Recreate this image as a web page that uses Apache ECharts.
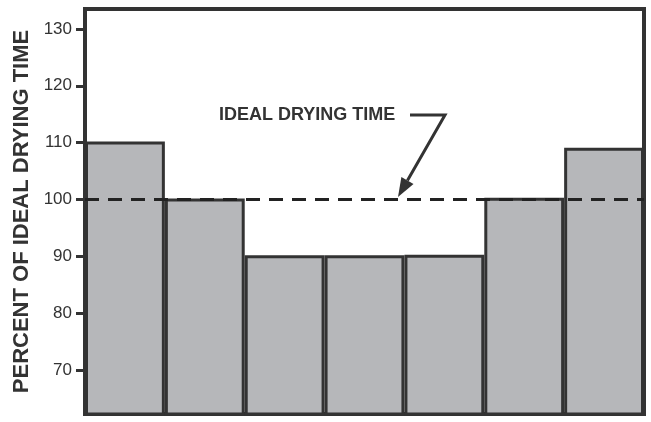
<!DOCTYPE html>
<html lang="en">
<head>
<meta charset="UTF-8" />
<title>Percent of ideal drying time</title>
<script type="text/javascript" src="https://cdn.jsdelivr.net/npm/echarts@6/dist/echarts.min.js"></script>
<style>
  html, body { margin: 0; padding: 0; background: #fff; }
</style>
</head>
<body>
<div id="main" style="width: 651px; height: 422px;"></div>
<script type="text/javascript">
    // data
    var categories = ['1', '2', '3', '4', '5', '6', '7'];
    var dryingTime = [110.2, 100.2, 90.2, 90.2, 90.3, 100.3, 109.1];
    var tickValues = [70, 80, 90, 100, 110, 120, 130];
    var idealValue = 100;

    var myChart = echarts.init(document.getElementById('main'));

    // arrow for the note: polyline plus a filled head
    var tip = [398, 197], bend = [445, 115];
    var dx = tip[0] - bend[0], dy = tip[1] - bend[1];
    var len = Math.sqrt(dx * dx + dy * dy);
    var ux = dx / len, uy = dy / len;
    var bx = tip[0] - 19 * ux, by = tip[1] - 19 * uy;
    var head = [tip, [bx - 7 * uy, by + 7 * ux], [bx + 7 * uy, by - 7 * ux]];

    var options = {
        animation: false,
        grid: {
            left: 85, right: 7, top: 9, bottom: 8,
            show: true,
            borderColor: '#333',
            borderWidth: 4,
            backgroundColor: '#fff'
        },
        xAxis: {
            type: 'category',
            data: categories,
            axisLine: { show: false },
            axisTick: { show: false },
            axisLabel: { show: false },
            splitLine: { show: false }
        },
        yAxis: {
            type: 'value',
            min: 62.3,
            max: 133.5,
            name: 'PERCENT OF IDEAL DRYING TIME',
            nameLocation: 'middle',
            nameGap: 52,
            nameTextStyle: {
                fontFamily: 'Liberation Sans',
                fontWeight: 'bold',
                fontSize: 22,
                color: '#333'
            },
            axisLine: { show: false },
            axisTick: {
                show: true,
                customValues: tickValues,
                length: 9,
                lineStyle: { color: '#333', width: 3 }
            },
            axisLabel: {
                customValues: tickValues,
                margin: 13,
                fontFamily: 'Liberation Sans',
                fontSize: 17,
                color: '#333'
            },
            splitLine: { show: false }
        },
        series: [{
            name: 'drying time',
            type: 'bar',
            data: dryingTime,
            barCategoryGap: 0,
            itemStyle: {
                color: '#b6b7ba',
                borderColor: '#333',
                borderWidth: 3
            },
            markLine: {
                silent: true,
                symbol: 'none',
                label: { show: false },
                lineStyle: { color: '#222', width: 3, type: [14, 9] },
                data: [{ yAxis: idealValue }]
            }
        }],
        graphic: [
            {
                type: 'text',
                left: 219,
                top: 106,
                style: {
                    text: 'IDEAL DRYING TIME',
                    font: 'bold 18px "Liberation Sans"',
                    fill: '#333'
                }
            },
            {
                type: 'polyline',
                shape: { points: [[410, 115], bend, [bx, by]] },
                style: { stroke: '#333', lineWidth: 3, fill: null }
            },
            {
                type: 'polygon',
                shape: { points: head },
                style: { fill: '#333' }
            }
        ]
    };
    myChart.setOption(options);
</script>
</body>
</html>
